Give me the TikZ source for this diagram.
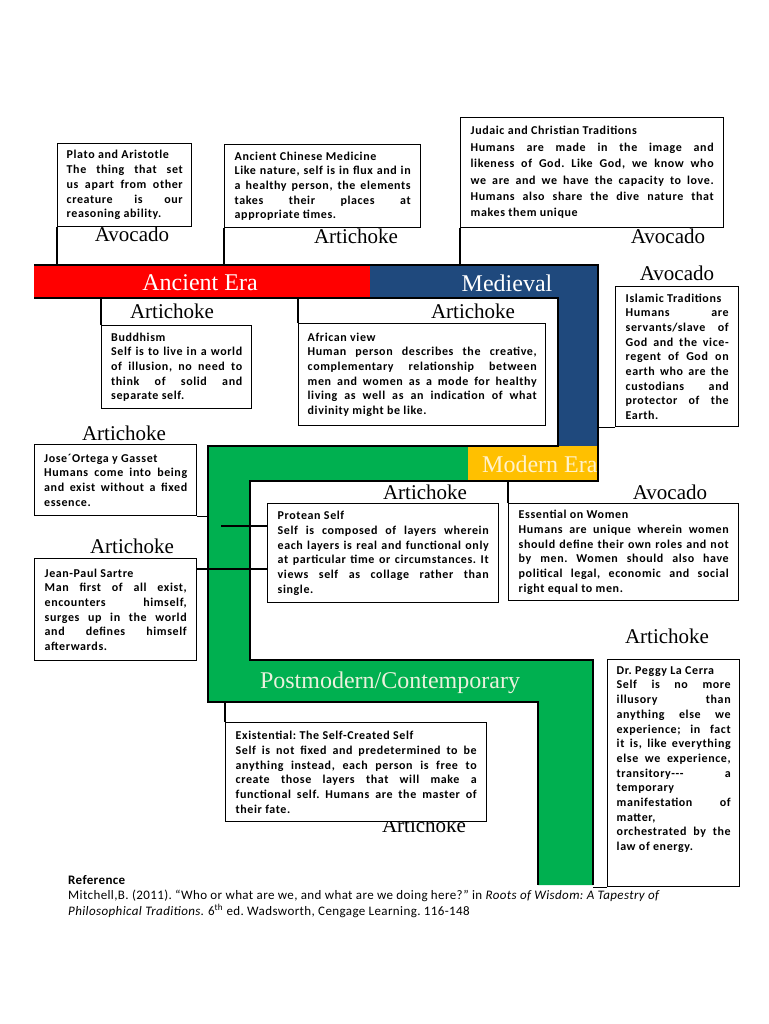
\documentclass[tikz,border=0pt]{standalone}
\usepackage{fontspec}
\setmainfont{Liberation Serif}
\newfontfamily\notesfont[LetterSpace=5]{Carlito}
\newfontfamily\reffont[LetterSpace=3]{Carlito}
\definecolor{eraRed}{HTML}{FF0000}
\definecolor{eraBlue}{HTML}{1F497D}
\definecolor{eraGold}{HTML}{FFC000}
\definecolor{eraGreen}{HTML}{00B050}
\definecolor{modernTxt}{HTML}{FFF2CC}
\definecolor{postTxt}{HTML}{EAF1DD}
\setlength{\parindent}{0pt}
\hyphenpenalty=10000
\frenchspacing
\begin{document}
\begin{tikzpicture}
[x=1pt, y=-1pt, font=\fontsize{21}{24}\selectfont]
\tikzstyle{note}=[draw, line width=1.4pt, fill=white, anchor=north west, inner sep=0pt, align=justify, font=\notesfont\bfseries\fontsize{12}{14.7}\selectfont]
\tikzstyle{era}=[text=white, inner sep=0pt, font=\fontsize{24}{28}\selectfont]
\tikzstyle{fruit}=[inner sep=0pt]
\tikzstyle{band}=[line width=2.4pt]
\tikzstyle{link}=[line width=1.4pt]
\fill[white] (0,0) rectangle (768,1024);
\useasboundingbox (0,0) rectangle (768,1024);

% the timeline band
\coordinate (bandT)	at (34,265);
\coordinate (bandB)	at (34,298);
\coordinate (medR)	at (598,298);
\coordinate (greenL)	at (208,446);
\coordinate (goldB)	at (468,481);
\coordinate (postB)	at (208,702);
\coordinate (postR)	at (593,660);
\fill[eraRed]	(34,265) rectangle (370,298);
\fill[eraBlue]	(370,265) -- (598,265) -- (598,446) -- (558,446) -- (558,298) -- (370,298) -- cycle;
\fill[eraGreen]	(208,446) -- (468,446) -- (468,481) -- (250,481) -- (250,660) -- (593,660) -- (593,885) -- (538,885) -- (538,702) -- (208,702) -- cycle;
\fill[eraGold]	(468,446) rectangle (598,481);
\node[era]	(ancient)	at (200,283)	{Ancient Era};
\node[era]	(medieval)	at (507,283)	{Medieval};
\node[era, text=modernTxt, anchor=west]	(modern)	at (482,464)	{Modern Era};
\node[era, text=postTxt]	(postmodern)	at (390,683)	{Postmodern/Contemporary};
\draw[band] (34,265) -- (598,265) -- (598,481) -- (250,481) -- (250,660) -- (593,660) -- (593,885);
\draw[band] (34,298) -- (558,298) -- (558,446) -- (208,446) -- (208,702) -- (538,702) -- (538,885);

% labels
\node[fruit]	(lplato)	at (132,234)	{Avocado};
\node[fruit]	(lchinese)	at (356,236)	{Artichoke};
\node[fruit]	(ljudaic)	at (668,236)	{Avocado};
\node[fruit]	(lislamic)	at (677,273)	{Avocado};
\node[fruit]	(lbuddhism)	at (172,311)	{Artichoke};
\node[fruit]	(lafrican)	at (473,311)	{Artichoke};
\node[fruit]	(ljose)	at (124,433)	{Artichoke};
\node[fruit]	(lsartre)	at (132,546)	{Artichoke};
\node[fruit]	(lprotean)	at (425,492)	{Artichoke};
\node[fruit]	(lessential)	at (670,492)	{Avocado};
\node[fruit]	(lpeggy)	at (667,636)	{Artichoke};
\node[fruit]	(lexistential)	at (424,825)	{Artichoke};

% ancient and medieval
\node[note, minimum width=134, minimum height=83, text width=116]	(plato)	at (57,143)
	{Plato and Aristotle\par The thing that set\linebreak us apart from other\linebreak creature is our\linebreak reasoning ability.};
\node[note, minimum width=196, minimum height=83, text width=176]	(chinese)	at (224,144)
	{Ancient Chinese Medicine\par Like nature, self is in flux and in\linebreak a healthy person, the elements\linebreak takes their places at\linebreak appropriate times.};
\node[note, minimum width=263, minimum height=110, text width=243, font=\notesfont\bfseries\fontsize{12}{16.4}\selectfont]	(judaic)	at (460,117)
	{Judaic and Christian Traditions\par Humans are made in the image and\linebreak likeness of God. Like God, we know who\linebreak we are and we have the capacity to love.\linebreak Humans also share the dive nature that\linebreak makes them unique};
\node[note, minimum width=150, minimum height=83, text width=131]	(buddhism)	at (101,325)
	{Buddhism\par Self is to live in a world\linebreak of illusion, no need to\linebreak think of solid and\linebreak separate self.};
\node[note, minimum width=247, minimum height=102, text width=229]	(african)	at (298,323)
	{African view\par Human person describes the creative,\linebreak complementary relationship between\linebreak men and women as a mode for healthy\linebreak living as well as an indication of what\linebreak divinity might be like.};
\node[note, minimum width=123, minimum height=140, text width=103]	(islamic)	at (615,286)
	{Islamic Traditions\par Humans are\linebreak servants/slave of\linebreak God and the vice-\linebreak regent of God on\linebreak earth who are the\linebreak custodians and\linebreak protector of the\linebreak Earth.};

% modern
\node[note, minimum width=162, minimum height=71, text width=143]	(jose)	at (34,444)
	{Jose´Ortega y Gasset\par Humans come into being\linebreak and exist without a fixed\linebreak essence.};
\node[note, minimum width=162, minimum height=102, text width=142]	(sartre)	at (34,558)
	{Jean-Paul Sartre\par Man first of all exist,\linebreak encounters himself,\linebreak surges up in the world\linebreak and defines himself\linebreak afterwards.};
\node[note, minimum width=231, minimum height=99, text width=211]	(protean)	at (267,503)
	{Protean Self\par Self is composed of layers wherein\linebreak each layers is real and functional only\linebreak at particular time or circumstances. It\linebreak views self as collage rather than\linebreak single.};
\node[note, minimum width=230, minimum height=97, text width=210]	(essential)	at (508,503)
	{Essential on Women\par Humans are unique wherein women\linebreak should define their own roles and not\linebreak by men. Women should also have\linebreak political legal, economic and social\linebreak right equal to men.};

% postmodern
\node[note, minimum width=261, minimum height=99, text width=241]	(existential)	at (225,722)
	{Existential: The Self-Created Self\par Self is not fixed and predetermined to be\linebreak anything instead, each person is free to\linebreak create those layers that will make a\linebreak functional self. Humans are the master of\linebreak their fate.};
\node[note, minimum width=132, minimum height=227, text width=114]	(peggy)	at (607,659)
	{Dr. Peggy La Cerra\par Self is no more\linebreak illusory than\linebreak anything else we\linebreak experience; in fact\linebreak it is, like everything\linebreak else we experience,\linebreak transitory-{}-{}- a\linebreak temporary\linebreak manifestation of\linebreak matter,\linebreak orchestrated by the\linebreak law of energy.\par\mbox{}\par\mbox{}};

\coordinate (sj) at (196,569);
\coordinate (ps) at (221,526);
\draw[link] (plato.south west) -- (plato.south west |- bandT);
\draw[link] (chinese.south west) -- (chinese.south west |- bandT);
\draw[link] (judaic.south west) -- (judaic.south west |- bandT);
\draw[link] (buddhism.north west) -- (buddhism.north west |- bandB);
\draw[link] (african.north west) -- (african.north west |- bandB);
\draw[link] (islamic.south west) -- (islamic.south west -| medR);
\draw[link] (jose.south east) -- (jose.south east -| greenL);
\draw[link] (sj) -- (sj -| protean.west);
\draw[link] (ps) -- (ps -| protean.west);
\draw[link] (essential.north west) -- (essential.north west |- goldB);
\draw[link] (existential.north west) -- (existential.north west |- postB);
\draw[link] (peggy.south west) -- (peggy.south west -| postR);

\node[anchor=north west, align=left, inner sep=0pt, font=\reffont\fontsize{13}{15.5}\selectfont]	(ref)	at (68,875)
	{\textbf{Reference}\\Mitchell,B. (2011). “Who or what are we, and what are we doing here?” in \textit{Roots of Wisdom: A Tapestry of}\\\textit{Philosophical Traditions.} 6\textsuperscript{th} ed. Wadsworth, Cengage Learning. 116-148};
\end{tikzpicture}
\end{document}
